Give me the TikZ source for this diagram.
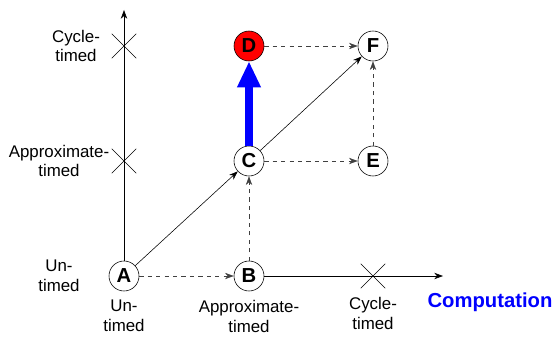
\documentclass[tikz,border=0pt]{standalone}
\usepackage{fontspec}
\setmainfont{Liberation Sans}
\usetikzlibrary{arrows.meta, positioning, shapes.misc}

\begin{document}
\begin{tikzpicture}[
    state/.style={draw, circle, fill=white, minimum size=0.75cm, inner sep=0pt, font=\Large\bfseries},
    label/.style={align=center, font=\large},
    xmark/.style={draw, cross out, minimum size=0.6cm, inner sep=0pt},
    link/.style={-{Stealth[length=2.2mm, width=1.6mm]}},
    dlink/.style={link, dashed, black!75},
    >=Stealth
  ]
  \useasboundingbox (0,0) rectangle (13.8,8.425);

  % --- axes ---
  \coordinate (ytop) at (3.1, 8.175);
  \coordinate (xend) at (11.075, 1.525);
  \node[xmark] (ycyc) at (3.1, 7.275) {};
  \node[xmark] (yapp) at (3.1, 4.4) {};
  \node[xmark] (xcyc) at (9.325, 1.525) {};

  % --- states ---
  \node[state] (a) at (3.1, 1.525) {A};
  \node[state] (b) at (6.225, 1.525) {B};
  \node[state] (c) at (6.225, 4.4) {C};
  \node[state, fill=red] (d) at (6.225, 7.275) {D};
  \node[state] (e) at (9.325, 4.4) {E};
  \node[state] (f) at (9.325, 7.275) {F};

  \draw[link] (a.north) -- (ytop);
  \draw[link] (b.east) -- (xend);

  % --- axis labels ---
  \node[label] (lcyc) at (1.9, 7.275) {Cycle-\\timed};
  \node[label] (lapp) at (1.475, 4.4) {Approximate-\\timed};
  \node[label] (lun) at (1.475, 1.525) {Un-\\timed};
  \node[label, below=0.1cm of a] (bun) {Un-\\timed};
  \node[label, below=0.1cm of b] (bapp) {Approximate-\\timed};
  \node[label, below=0.1cm of xcyc] (bcyc) {Cycle-\\timed};
  \node[font=\Large\bfseries, text=blue] (comp) at (12.25, 0.875) {Computation};

  % --- transitions ---
  \draw[link] (a) -- (c);
  \draw[link] (c) -- (f);
  \draw[dlink] (a) -- (b);
  \draw[dlink] (b) -- (c);
  \draw[dlink] (c) -- (e);
  \draw[dlink] (e) -- (f);
  \draw[dlink] (d) -- (f);
  \draw[blue, line width=5pt, -{Triangle[length=6.5mm, width=5.5mm]}] (c) -- (d);

\end{tikzpicture}
\end{document}
